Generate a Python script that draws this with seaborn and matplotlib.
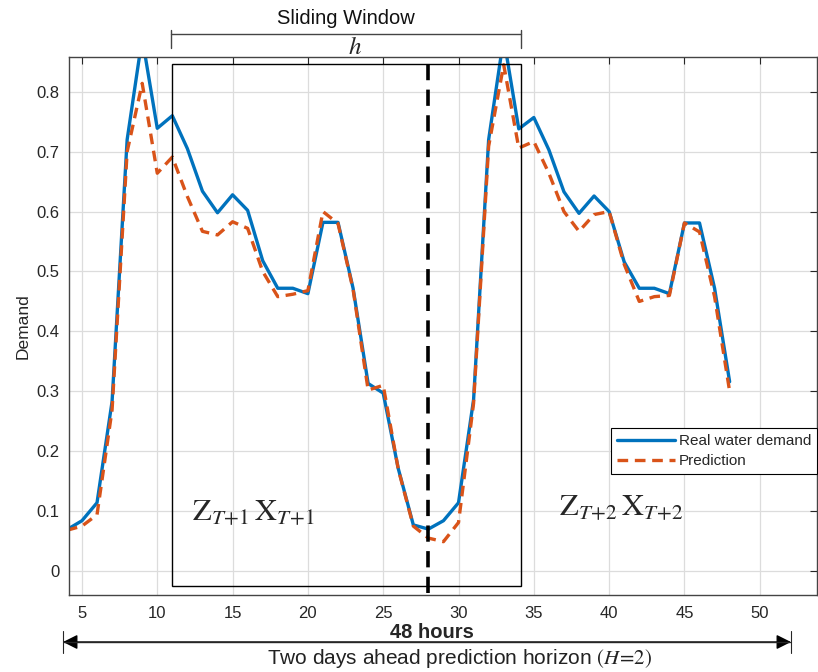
import numpy as np
import pandas as pd
import matplotlib.pyplot as plt
import seaborn as sns
from matplotlib.patches import Rectangle

# hours on the x axis
hours = list(range(4, 49))

# real water demand
real_demand = [0.069, 0.084, 0.114, 0.283, 0.720, 0.890, 0.739, 0.760, 0.705, 0.634,
               0.598, 0.628, 0.602, 0.518, 0.472, 0.472, 0.463, 0.582, 0.582, 0.472,
               0.313, 0.297, 0.171, 0.077, 0.070, 0.084, 0.114, 0.286, 0.720, 0.890,
               0.738, 0.757, 0.703, 0.633, 0.597, 0.626, 0.600, 0.516, 0.472, 0.472,
               0.463, 0.581, 0.581, 0.472, 0.316]

# predicted demand
prediction = [0.068, 0.075, 0.094, 0.269, 0.700, 0.814, 0.664, 0.691, 0.625, 0.567,
              0.561, 0.583, 0.572, 0.500, 0.458, 0.462, 0.468, 0.600, 0.580, 0.470,
              0.302, 0.310, 0.170, 0.075, 0.055, 0.049, 0.081, 0.280, 0.709, 0.845,
              0.706, 0.717, 0.664, 0.600, 0.567, 0.595, 0.600, 0.512, 0.450, 0.458,
              0.460, 0.581, 0.566, 0.458, 0.300]

x_ticks = [5, 10, 15, 20, 25, 30, 35, 40, 45, 50]
y_ticks = [0, 0.1, 0.2, 0.3, 0.4, 0.5, 0.6, 0.7, 0.8]

df = pd.DataFrame({'hour': hours, 'real': real_demand, 'pred': prediction})

sns.set_theme(style='white')
plt.rcParams['font.family'] = ['Liberation Sans', 'DejaVu Sans']
plt.rcParams['mathtext.fontset'] = 'stix'

blue = '#0072BD'
orange = '#D95319'
axis_gray = '#262626'

fig = plt.figure(figsize=(8.18, 6.72), dpi=100)
ax = fig.add_axes([69 / 818, 1 - 595 / 672, (817 - 69) / 818, (595 - 57) / 672])

sns.lineplot(data=df, x='hour', y='real', ax=ax, color=blue, linewidth=2.4,
             label='Real water demand')
sns.lineplot(data=df, x='hour', y='pred', ax=ax, color=orange, linewidth=2.4,
             label='Prediction')
ax.lines[1].set_linestyle((0, (3.2, 2.0)))

ax.set_xlim(4.14, 53.8)
ax.set_ylim(-0.04, 0.858)
ax.set_xticks(x_ticks)
ax.set_yticks(y_ticks)
ax.set_yticklabels(['0', '0.1', '0.2', '0.3', '0.4', '0.5', '0.6', '0.7', '0.8'])
ax.set_xlabel('')
ax.set_ylabel('Demand', fontsize=12.5, color=axis_gray, labelpad=4)
ax.grid(True, color='#dcdcdc', linewidth=0.9)
ax.tick_params(direction='in', length=5, width=0.8, colors=axis_gray,
               labelsize=12, top=True, right=True)
ax.tick_params(axis='x', pad=8)
ax.tick_params(axis='y', pad=7)
for s in ax.spines.values():
    s.set_color('#444444')
    s.set_linewidth(1.0)

# sliding window box and current time marker
ax.add_patch(Rectangle((11, -0.025), 23.13, 0.872, fill=False,
                       edgecolor='black', linewidth=1.0, zorder=4))
ax.axvline(27.97, ymin=0.003, ymax=0.99, color='black', linewidth=2.6,
           linestyle=(0, (4.5, 2.6)), zorder=5)

ax.text(12.3, 0.097, r'$\mathrm{Z}_{T\!+\!\mathit{1}}\,\mathrm{X}_{T\!+\!\mathit{1}}$',
        fontsize=22, ha='left', va='center')
ax.text(36.7, 0.106, r'$\mathrm{Z}_{T\!+\!2}\,\mathrm{X}_{T\!+\!2}$',
        fontsize=22, ha='left', va='center')

leg = ax.legend(loc='upper right', bbox_to_anchor=(1.0, 1 - (428 - 57) / 538),
                borderaxespad=0, fontsize=11, handlelength=3.8, handletextpad=0.2,
                fancybox=False, framealpha=1, edgecolor='black',
                borderpad=0.4, labelspacing=0.4)
leg.get_frame().set_linewidth(0.8)

# sliding window bracket above the axes
bracket_color = '#444444'
fig.add_artist(plt.Line2D([171 / 818, 521 / 818], [1 - 34 / 672, 1 - 34 / 672],
                          color=bracket_color, linewidth=1.0))
for xp in (171, 521):
    fig.add_artist(plt.Line2D([xp / 818, xp / 818], [1 - 30 / 672, 1 - 48 / 672],
                              color=bracket_color, linewidth=1.0))
fig.text(346 / 818, 1 - 18 / 672, 'Sliding Window', fontsize=14.5,
         ha='center', va='center', color='#111111')
fig.text(355 / 818, 1 - 47 / 672, r'$h$', fontsize=18, ha='center', va='center')

# horizon arrow below the axes
fig.text(432 / 818, 1 - 633 / 672, '48 hours', fontsize=14.5, fontweight='bold',
         ha='center', va='center')
fig.add_artist(plt.Line2D([64 / 818, 790 / 818], [1 - 642 / 672, 1 - 642 / 672],
                          color=axis_gray, linewidth=1.0))
ax.annotate('', xy=(63 / 818, 1 - 642 / 672), xytext=(791 / 818, 1 - 642 / 672),
            xycoords='figure fraction', textcoords='figure fraction',
            arrowprops=dict(arrowstyle='<|-|>', color='black', lw=1.0,
                            mutation_scale=22, shrinkA=0, shrinkB=0))
for xp in (63, 791):
    fig.add_artist(plt.Line2D([xp / 818, xp / 818], [1 - 631 / 672, 1 - 653 / 672],
                              color=axis_gray, linewidth=0.8))
fig.text(460 / 818, 1 - 659 / 672,
         r'Two days ahead prediction horizon $(H\!=\!2)$',
         fontsize=15, ha='center', va='center', color='#222222')

fig.savefig('out.png', dpi=100)
